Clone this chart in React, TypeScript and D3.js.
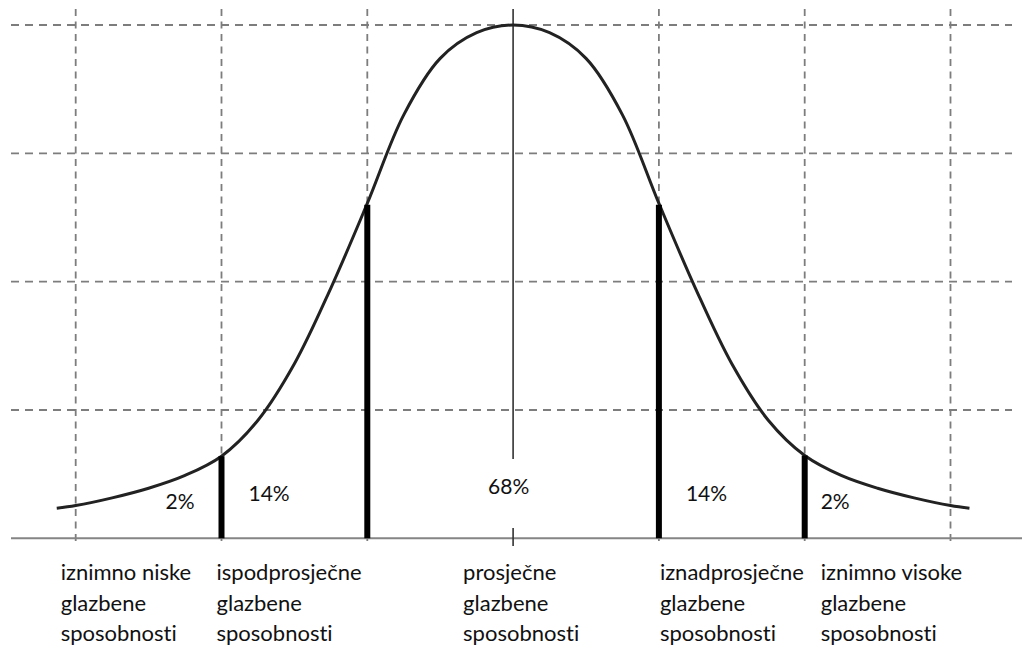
import React from "react";
import * as d3 from "d3";

// Curve sample points (x in standard deviations, y in grid units)
const curveX = [
  -3.13, -3.0, -2.75, -2.5, -2.25, -2.0, -1.75, -1.5, -1.25, -1.0, -0.75, -0.5, -0.25,
  0, 0.25, 0.5, 0.75, 1.0, 1.25, 1.5, 1.75, 2.0, 2.25, 2.5, 2.75, 3.0, 3.13,
];
const curveY = [
  0.235, 0.255, 0.315, 0.39, 0.49, 0.64, 0.92, 1.36, 1.95, 2.61, 3.3, 3.74, 3.94,
  4.0, 3.94, 3.74, 3.3, 2.61, 1.95, 1.36, 0.92, 0.645, 0.49, 0.39, 0.315, 0.255, 0.235,
];

// Cut-off bars (thick black lines)
const cutX = [-2, -1, 1, 2];
const cutTop = [0.64, 2.6, 2.6, 0.645];

// Grid
const gridX = [-3, -2, -1, 1, 2, 3];
const gridY = [1, 2, 3, 4];

// Percentages
const pctLabels = ["2%", "14%", "68%", "14%", "2%"];

// Category labels
const categories = [
  ["iznimno niske", "glazbene", "sposobnosti"],
  ["ispodprosječne", "glazbene", "sposobnosti"],
  ["prosječne", "glazbene", "sposobnosti"],
  ["iznadprosječne", "glazbene", "sposobnosti"],
  ["iznimno visoke", "glazbene", "sposobnosti"],
];

export default function App() {
  const W = 1022;
  const H = 646;
  const x = d3.scaleLinear().domain([-3, 3]).range([75.7, 950.5]);
  const y = d3.scaleLinear().domain([0, 4]).range([538.3, 25]);

  const pts: [number, number][] = curveX.map((v, i) => [v, curveY[i]]);
  const line = d3
    .line<[number, number]>()
    .x((d) => x(d[0]))
    .y((d) => y(d[1]))
    .curve(d3.curveCatmullRom.alpha(0.5));

  // label layout (pixel anchors)
  const pctPos = [
    { x: x(-2) - 56, y: 509 },
    { x: x(-2) + 27, y: 501 },
    { x: x(0) - 25, y: 494 },
    { x: x(1) + 27, y: 501 },
    { x: x(2) + 16, y: 509 },
  ];
  const catPos = [x(-3) - 15, x(-2) - 5, x(0) - 50, x(1) + 1, x(2) + 16];
  const lineBase = [580, 611, 641];

  const font = "Lato, 'Open Sans', sans-serif";
  const grid = "#7d7d7d";
  const textStyle = { fontVariantLigatures: "none" } as React.CSSProperties;

  return (
    <svg
      width={W}
      height={H}
      style={{ position: "absolute", left: 0, top: 0, background: "#fff" }}
    >
      <rect x={0} y={0} width={W} height={H} fill="#fff" />
      {/* horizontal dashed grid */}
      {gridY.map((g) => (
        <line
          key={"h" + g}
          x1={11}
          x2={1012}
          y1={y(g)}
          y2={y(g)}
          stroke={grid}
          strokeWidth={1.8}
          strokeDasharray="8,6"
        />
      ))}
      {/* vertical dashed grid */}
      {gridX.map((g) => (
        <line
          key={"v" + g}
          x1={x(g)}
          x2={x(g)}
          y1={9}
          y2={546}
          stroke={grid}
          strokeWidth={1.8}
          strokeDasharray="7,5.5"
        />
      ))}
      {/* baseline */}
      <line x1={11} x2={W} y1={y(0)} y2={y(0)} stroke="#858585" strokeWidth={2} />
      {/* centre line */}
      <line x1={x(0)} x2={x(0)} y1={9} y2={459} stroke="#333" strokeWidth={1.6} />
      <line x1={x(0)} x2={x(0)} y1={528} y2={546} stroke="#333" strokeWidth={1.6} />
      {/* curve */}
      <path d={line(pts) || ""} fill="none" stroke="#222" strokeWidth={3} />
      {/* cut-off bars */}
      {cutX.map((c, i) => (
        <line
          key={"c" + c}
          x1={x(c)}
          x2={x(c)}
          y1={y(cutTop[i])}
          y2={y(0)}
          stroke="#000"
          strokeWidth={6}
        />
      ))}
      {/* percentages */}
      {pctLabels.map((p, i) => (
        <text
          key={"p" + i}
          x={pctPos[i].x}
          y={pctPos[i].y}
          fontFamily={font}
          fontSize={21}
          fill="#111"
          style={textStyle}
        >
          {p}
        </text>
      ))}
      {/* category labels */}
      {categories.map((lines, i) => (
        <g key={"cat" + i}>
          {lines.map((t, j) => (
            <text
              key={j}
              x={catPos[i]}
              y={lineBase[j]}
              fontFamily={font}
              fontSize={22}
              fill="#111"
              style={textStyle}
            >
              {t}
            </text>
          ))}
        </g>
      ))}
    </svg>
  );
}
